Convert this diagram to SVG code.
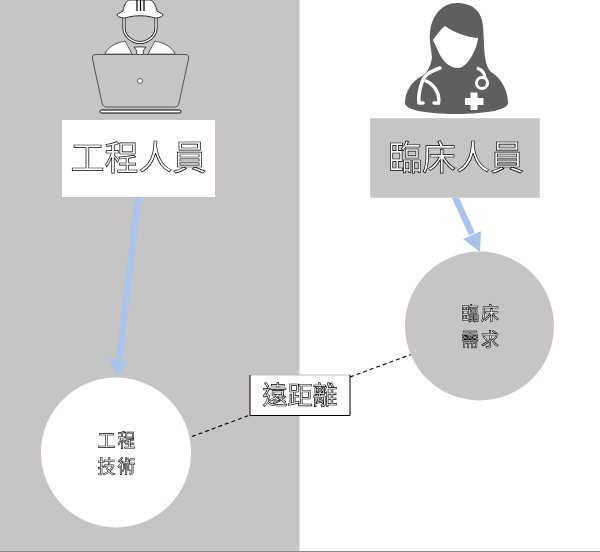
<svg xmlns="http://www.w3.org/2000/svg" width="600" height="552" viewBox="0 0 600 552">
<style>
text{font-family:"Noto Sans CJK TC","Noto Sans CJK SC",sans-serif;text-anchor:middle;fill:#fff;stroke:#000;filter:url(#gray)}
.big{font-size:34px;stroke-width:.7}
.mid{font-size:25px;stroke-width:.7}
.small{font-size:18px;letter-spacing:2px;stroke-width:.6}
.arrow{stroke:#a9c4ea;stroke-width:6.500;fill:none}
.head{fill:#a9c4ea}
.dash{stroke:#000;stroke-width:1.100;stroke-dasharray:4 3;fill:none}
</style>
<defs>
<filter id="gray" x="-10%" y="-10%" width="120%" height="120%" color-interpolation-filters="sRGB"><feOffset dx="0" dy="0"/></filter>
</defs>
<rect width="600" height="552" fill="#fff"/>
<rect id="panel" width="299.500" height="552" fill="#c6c4c5"/>
<rect y="551" width="600" height="1" fill="#8a8a8a"/>
<g id="engineer-icon">
<path d="M124 17V28C124 37 133 42.500 140 42.500C147 42.500 156 37 156 28V17" fill="none" stroke="#000" stroke-width="3"/>
<path d="M124 17V28C124 37 133 42.500 140 42.500C147 42.500 156 37 156 28V17" fill="none" stroke="#fff" stroke-width="1.500"/>
<path d="M117 14.500L123 11C124 4 127 1 129 0H151C154 2 156 6 157 11L163 14.500C163 17 158 18 155 18C146 15 134 15 125 18C122 18 117 17 117 14.500Z" fill="#fff" stroke="#000" stroke-width=".8"/>
<path d="M137 0V11M140.500 0V11M144 0V11" stroke="#000" stroke-width="1.200" fill="none"/>
<path d="M105 54C108 47 115 43 125 41L132 54Z" fill="#fff" stroke="#000" stroke-width=".6"/>
<path d="M175 54C172 47 165 43 155 41L148 54Z" fill="#fff" stroke="#000" stroke-width=".6"/>
<path d="M134 47H146L143 51L144 55H136L137 51Z" fill="#fff" stroke="#000" stroke-width=".7"/>
<path d="M96 54.500H185C188 54.500 189 56 188.500 59L179 103C178 106 177 107 174 107H107C104 107 103 106 102 103L92.500 59C92 56 93 54.500 96 54.500Z" fill="#c6c4c5" stroke="#555" stroke-width="1"/>
<circle cx="140" cy="81" r="2.500" fill="#fff" stroke="#333" stroke-width=".7"/>
<rect x="100" y="110" width="81" height="3" rx="1.500" fill="#fff" stroke="#000" stroke-width="1"/>
</g>
<g id="doctor-icon">
<path d="M457 3C473 3 482 12 483 26C484 40 484 50 485 57C486 64 488 69 491 72C501 78 508 90 508 103C508 110 485 114 456 114C427 114 405 110 405 103C405 91 412 81 422 76C427 73 431 66 432 57C431 48 429 40 430 32C432 14 443 3 457 3Z" fill="#5f5f5f"/>
<path d="M433 40C437 34 441 29 445 26C455 33 466 37 478 38C477 50 467 68 458 68C450 68 443 62 438 51Z" fill="#fff"/>
<path d="M440 68C428 72 424 76 422 82C420 88 418 94 419 102" fill="none" stroke="#fff" stroke-width="3.500" stroke-linecap="round"/>
<path d="M423 103H419M434 103H438.500C440 94 435 85 426 81" fill="none" stroke="#fff" stroke-width="3.500" stroke-linecap="round"/>
<path d="M477 68C482 70 485 73 485 78" fill="none" stroke="#fff" stroke-width="3"/>
<circle cx="482" cy="83" r="5.500" fill="none" stroke="#fff" stroke-width="3"/>
<path d="M470.500 92.500H477.500V98H483.500V105H477.500V110H470.500V105H465V98H470.500Z" fill="#fff"/>
</g>
<g id="connectors">
<path class="arrow" d="M138 197L119 360"/>
<path class="head" d="M109 359L128 361L117 378Z"/>
<path class="arrow" d="M455 197L472 234"/>
<path class="head" d="M463 239L481 231L480 252Z"/>
<path class="dash" d="M192 436.500L250 415"/>
<path class="dash" d="M350 377L411 354.500"/>
</g>
<g id="engineer-box">
<rect x="62" y="120" width="153" height="77" fill="#fff"/>
<text class="big" x="138.500" y="170">工程人員</text>
</g>
<g id="clinical-box">
<rect x="370.500" y="118.500" width="169" height="79" fill="#c6c4c5" stroke="#d4d3d3"/>
<text class="big" x="456" y="170">臨床人員</text>
</g>
<g id="engineering-tech">
<circle cx="116" cy="452.500" r="75" fill="#fff"/>
<text class="small" x="117.500" y="446.500">工程<tspan x="117.500" dy="26">技術</tspan></text>
</g>
<g id="clinical-needs">
<circle cx="479.500" cy="326" r="74.500" fill="#c6c4c5"/>
<text class="small" x="481" y="319.500">臨床<tspan x="481" dy="26">需求</tspan></text>
</g>
<g id="distance">
<rect x="250" y="375" width="100" height="40" fill="#fff"/>
<path d="M250 375H350" stroke="#bbb" fill="none"/>
<path d="M250 375V415.500H350V375" stroke="#000" fill="none"/>
<text class="mid" x="300" y="404">遠距離</text>
</g>
</svg>
